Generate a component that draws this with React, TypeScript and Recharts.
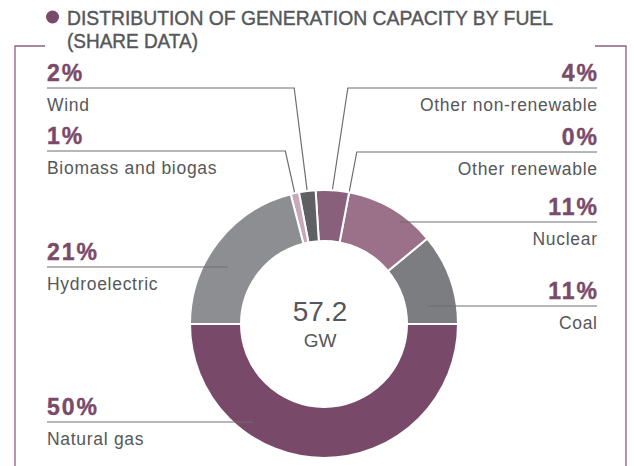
import React from 'react';
import { PieChart, Pie, Cell } from 'recharts';

// ---- data ----
const categories = [
  'Coal',
  'Nuclear',
  'Other renewable',
  'Other non-renewable',
  'Wind',
  'Biomass and biogas',
  'Hydroelectric',
  'Natural gas',
];
const shares = [11, 11, 0, 4, 2, 1, 21, 50];
const shareLabels = ['11%', '11%', '0%', '4%', '2%', '1%', '21%', '50%'];
const sliceColors = ['#7c7d81', '#9b7189', '#b48ea4', '#88607b', '#5e6063', '#c8a9ba', '#8d8e92', '#794969'];
const totalValue = '57.2';
const totalUnit = 'GW';
const titleLines = ['DISTRIBUTION OF GENERATION CAPACITY BY FUEL', '(SHARE DATA)'];

// ---- label layout (annotation placement, not data) ----
type Lay = { side: 'left' | 'right'; lineY: number; elbow?: boolean; lean?: number; lineR?: number };
const labelLayout: Lay[] = [
  { side: 'right', lineY: 306, lineR: 105 },
  { side: 'right', lineY: 222, lineR: 127 },
  { side: 'right', lineY: 152, elbow: true },
  { side: 'right', lineY: 88, elbow: true, lean: 9 },
  { side: 'left', lineY: 88, elbow: true },
  { side: 'left', lineY: 151, elbow: true },
  { side: 'left', lineY: 267, lineR: 112 },
  { side: 'left', lineY: 422, lineR: 121 },
];

const chartData = categories.map((name, i) => ({ name, value: shares[i] }));

const W = 634;
const H = 466;
const LEFT_X = 47;
const RIGHT_X = 597;
const PURPLE = '#7a4a6b';
const TEXT_GRAY = '#56575a';
const LINE_GRAY = '#6d6e71';
const FONT = '"Liberation Sans", Arial, Helvetica, sans-serif';

const renderLabel = (props: any) => {
  const { cx, cy, midAngle, outerRadius, index } = props;
  const lay = labelLayout[index];
  if (!lay) return null;
  const RAD = Math.PI / 180;
  const c = Math.cos(-midAngle * RAD);
  const s = Math.sin(-midAngle * RAD);
  const edgeX = lay.side === 'left' ? LEFT_X : RIGHT_X;
  let pts: number[][];
  if (lay.elbow) {
    const r0 = outerRadius + 1;
    const px = cx + r0 * c;
    const py = cy + r0 * s;
    const t = (lay.lineY - cy) / s;
    const ex = cx + t * c + (lay.lean || 0);
    pts = [
      [edgeX, lay.lineY],
      [ex, lay.lineY],
      [px, py],
    ];
  } else {
    const dy = lay.lineY - cy;
    const r = lay.lineR || outerRadius;
    const dx = Math.sqrt(Math.max(r * r - dy * dy, 0));
    const ex = lay.side === 'left' ? cx - dx : cx + dx;
    pts = [
      [edgeX, lay.lineY],
      [ex, lay.lineY],
    ];
  }
  const anchor = lay.side === 'left' ? 'start' : 'end';
  return (
    <g key={`lbl-${index}`}>
      <polyline
        points={pts.map((p) => p.join(',')).join(' ')}
        fill="none"
        stroke={LINE_GRAY}
        strokeWidth={1.2}
      />
      <text
        x={lay.side === 'left' ? edgeX : edgeX + 2}
        y={lay.lineY - 7.5}
        textAnchor={anchor}
        fontFamily={FONT}
        fontWeight="bold"
        fontSize={23}
        letterSpacing={2}
        fill={PURPLE}
        stroke={PURPLE}
        strokeWidth={0.4}
      >
        {shareLabels[index]}
      </text>
      <text
        x={lay.side === 'left' ? edgeX : edgeX + 0.7}
        y={lay.lineY + 23}
        textAnchor={anchor}
        fontFamily={FONT}
        fontSize={17.5}
        letterSpacing={0.7}
        fill={TEXT_GRAY}
      >
        {categories[index]}
      </text>
    </g>
  );
};

export default function App() {
  return (
    <div style={{ position: 'absolute', left: 0, top: 0, width: W, height: H, background: '#fff' }}>
      <svg width={W} height={H} style={{ position: 'absolute', left: 0, top: 0 }}>
        {/* frame */}
        <polyline points="15,466 15,46 45,46" fill="none" stroke="#8a6080" strokeWidth={1.3} />
        <polyline points="595,46 626,46 626,466" fill="none" stroke="#8a6080" strokeWidth={1.3} />
        {/* title */}
        <circle cx={52.5} cy={17} r={6.5} fill={PURPLE} />
        <text
          x={67}
          y={25}
          fontFamily={FONT}
          fontSize={19.5}
          fill={TEXT_GRAY}
          stroke={TEXT_GRAY}
          strokeWidth={0.4}
          textLength={486}
          lengthAdjust="spacingAndGlyphs"
        >
          {titleLines[0]}
        </text>
        <text
          x={67}
          y={48}
          fontFamily={FONT}
          fontSize={19.5}
          fill={TEXT_GRAY}
          stroke={TEXT_GRAY}
          strokeWidth={0.4}
          textLength={131}
          lengthAdjust="spacingAndGlyphs"
        >
          {titleLines[1]}
        </text>
      </svg>
      <div style={{ position: 'absolute', left: 0, top: 0 }}>
        <PieChart width={W} height={H} margin={{ top: 0, right: 0, bottom: 0, left: 0 }}>
          <Pie
            data={chartData}
            dataKey="value"
            nameKey="name"
            cx={324}
            cy={324}
            innerRadius={83}
            outerRadius={134}
            startAngle={0}
            endAngle={360}
            stroke="#ffffff"
            strokeWidth={2}
            label={renderLabel}
            labelLine={false}
            isAnimationActive={false}
          >
            {chartData.map((d, i) => (
              <Cell key={d.name} fill={sliceColors[i]} />
            ))}
          </Pie>
          <text x={320} y={321} textAnchor="middle" fontFamily={FONT} fontSize={28} fill={TEXT_GRAY}>
            {totalValue}
          </text>
          <text x={320} y={347} textAnchor="middle" fontFamily={FONT} fontSize={19} fill={TEXT_GRAY}>
            {totalUnit}
          </text>
        </PieChart>
      </div>
    </div>
  );
}
